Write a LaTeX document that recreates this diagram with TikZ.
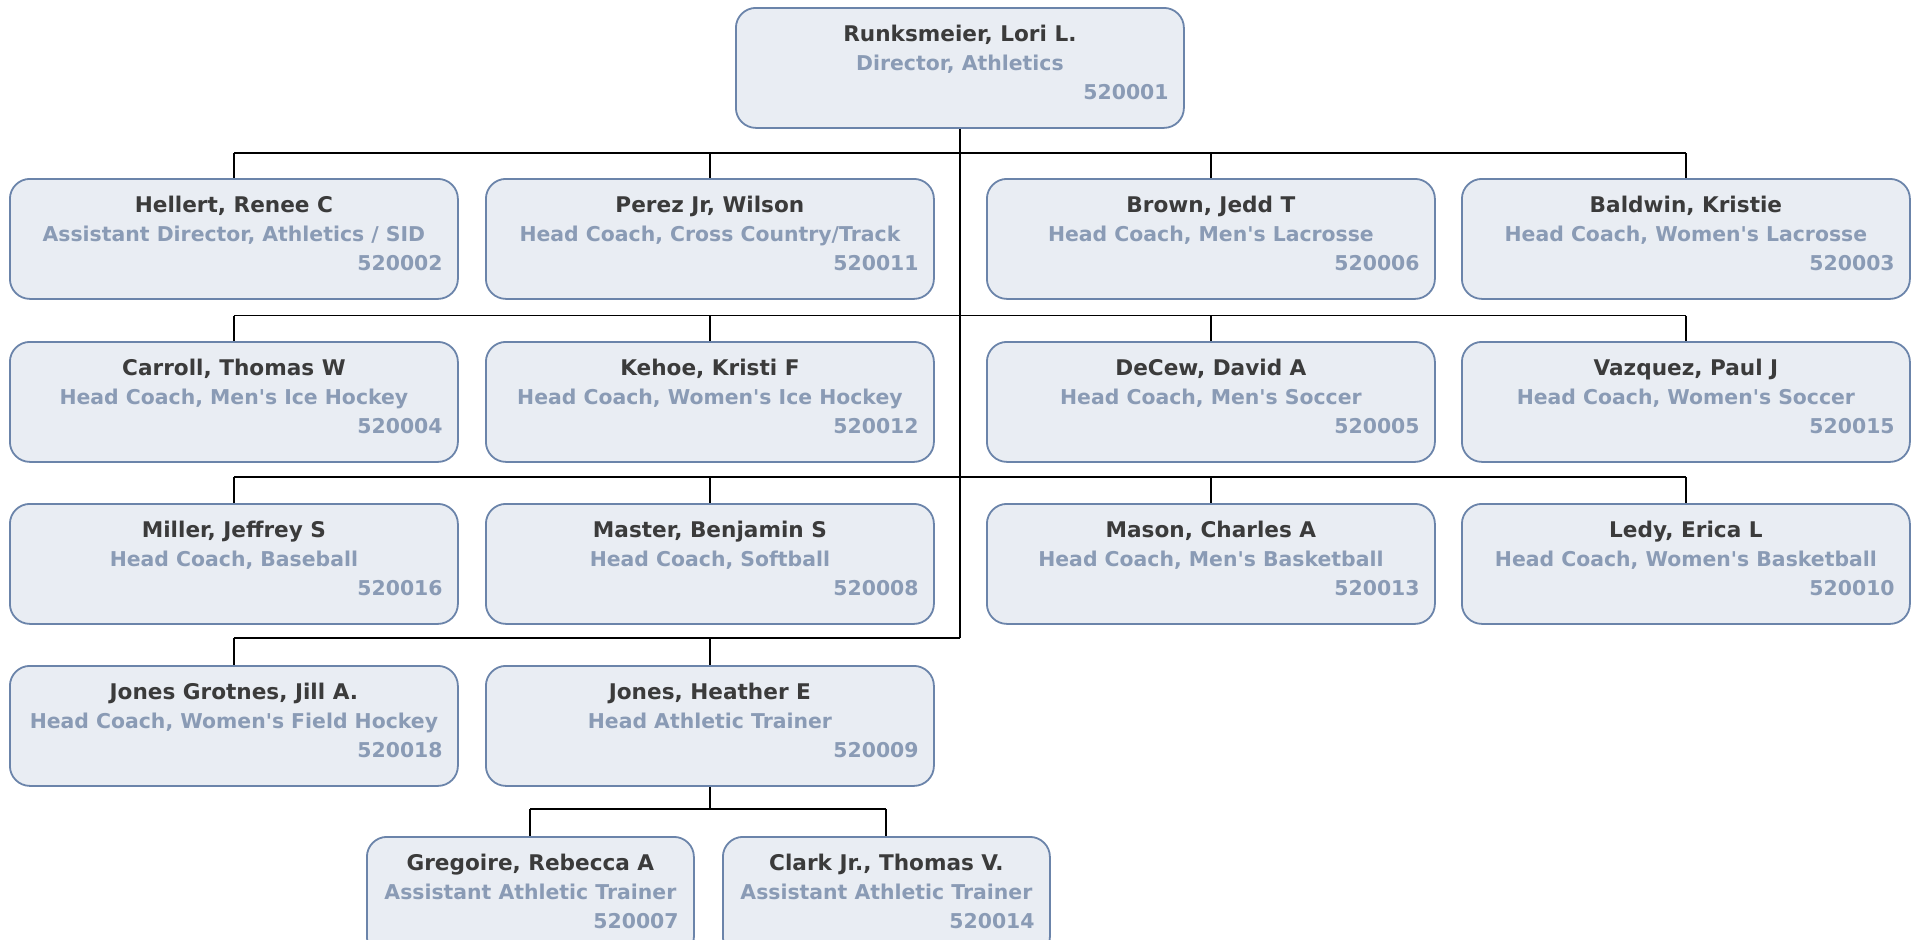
\documentclass[tikz,border=0pt]{standalone}
\usepackage{fontspec}
\setmainfont{DejaVu Sans}
\begin{document}
\definecolor{boxfill}{HTML}{E9EDF3}
\definecolor{boxline}{HTML}{6B84AA}
\definecolor{namecol}{HTML}{3B3B3B}
\definecolor{titlecol}{HTML}{8A9BB5}
\tikzset{
  staffbox/.style={draw=boxline, fill=boxfill, line width=1.8bp, rounded corners=20bp,
    rectangle, minimum height=120bp, inner sep=0pt, anchor=north west},
  nametext/.style={inner sep=0pt, text=namecol, font=\fontsize{21.6bp}{24bp}\selectfont\bfseries},
  titletext/.style={inner sep=0pt, text=titlecol, font=\fontsize{20.4bp}{24bp}\selectfont\bfseries},
  wire/.style={draw=black, line width=1.9bp}
}
\newcommand\apos{\textquotesingle}
% #1 node name, #2 left, #3 top, #4 width, #5 person, #6 position, #7 number
\newcommand\orgbox[7]{%
  \node[staffbox, minimum width=#4bp] (#1) at (#2,#3) {};
  \node[nametext, anchor=base] (#1-n) at ([yshift=-34bp]#1.north) {#5};
  \node[titletext, anchor=base] (#1-t) at ([yshift=-63bp]#1.north) {#6};
  \node[titletext, anchor=base east] (#1-i) at ([xshift=-16bp,yshift=-92bp]#1.north east) {#7};
}
\begin{tikzpicture}[x=1bp,y=-1bp]
\useasboundingbox (0,0) rectangle (1917,940);
% bus levels
\coordinate (busA) at (0,153);
\coordinate (busB) at (0,315.5);
\coordinate (busC) at (0,477);
\coordinate (busD) at (0,638);
\coordinate (busE) at (0,809);

\orgbox{root}{735}{7}{448}{Runksmeier, Lori L.}{Director, Athletics}{520001}

\orgbox{hellert}{9}{178}{448}{Hellert, Renee C}{Assistant Director, Athletics / SID}{520002}
\orgbox{perez}{485}{178}{448}{Perez Jr, Wilson}{Head Coach, Cross Country/Track}{520011}
\orgbox{brown}{986}{178}{448}{Brown, Jedd T}{Head Coach, Men\apos s Lacrosse}{520006}
\orgbox{baldwin}{1461}{178}{448}{Baldwin, Kristie}{Head Coach, Women\apos s Lacrosse}{520003}

\orgbox{carroll}{9}{341}{448}{Carroll, Thomas W}{Head Coach, Men\apos s Ice Hockey}{520004}
\orgbox{kehoe}{485}{341}{448}{Kehoe, Kristi F}{Head Coach, Women\apos s Ice Hockey}{520012}
\orgbox{decew}{986}{341}{448}{DeCew, David A}{Head Coach, Men\apos s Soccer}{520005}
\orgbox{vazquez}{1461}{341}{448}{Vazquez, Paul J}{Head Coach, Women\apos s Soccer}{520015}

\orgbox{miller}{9}{503}{448}{Miller, Jeffrey S}{Head Coach, Baseball}{520016}
\orgbox{master}{485}{503}{448}{Master, Benjamin S}{Head Coach, Softball}{520008}
\orgbox{mason}{986}{503}{448}{Mason, Charles A}{Head Coach, Men\apos s Basketball}{520013}
\orgbox{ledy}{1461}{503}{448}{Ledy, Erica L}{Head Coach, Women\apos s Basketball}{520010}

\orgbox{grotnes}{9}{665}{448}{Jones Grotnes, Jill A.}{Head Coach, Women\apos s Field Hockey}{520018}
\orgbox{jones}{485}{665}{448}{Jones, Heather E}{Head Athletic Trainer}{520009}

\orgbox{gregoire}{366}{836}{327}{Gregoire, Rebecca A}{Assistant Athletic Trainer}{520007}
\orgbox{clark}{722}{836}{327}{Clark Jr., Thomas V.}{Assistant Athletic Trainer}{520014}

% trunk from the director
\draw[wire] (root.south) -- (root.south |- busD);
% row buses
\draw[wire] (hellert.north |- busA) -- (baldwin.north |- busA);
\draw[wire] (carroll.north |- busB) -- (vazquez.north |- busB);
\draw[wire] (miller.north |- busC) -- (ledy.north |- busC);
\draw[wire] (grotnes.north |- busD) -- (root.south |- busD);
\foreach \n/\b in {hellert/busA, perez/busA, brown/busA, baldwin/busA,
                   carroll/busB, kehoe/busB, decew/busB, vazquez/busB,
                   miller/busC, master/busC, mason/busC, ledy/busC,
                   grotnes/busD, jones/busD}
  \draw[wire] (\n.north |- \b) -- (\n.north);
% trainers under the head athletic trainer
\draw[wire] (jones.south) -- (jones.south |- busE);
\draw[wire] (gregoire.north |- busE) -- (clark.north |- busE);
\draw[wire] (gregoire.north |- busE) -- (gregoire.north);
\draw[wire] (clark.north |- busE) -- (clark.north);
\end{tikzpicture}
\end{document}
